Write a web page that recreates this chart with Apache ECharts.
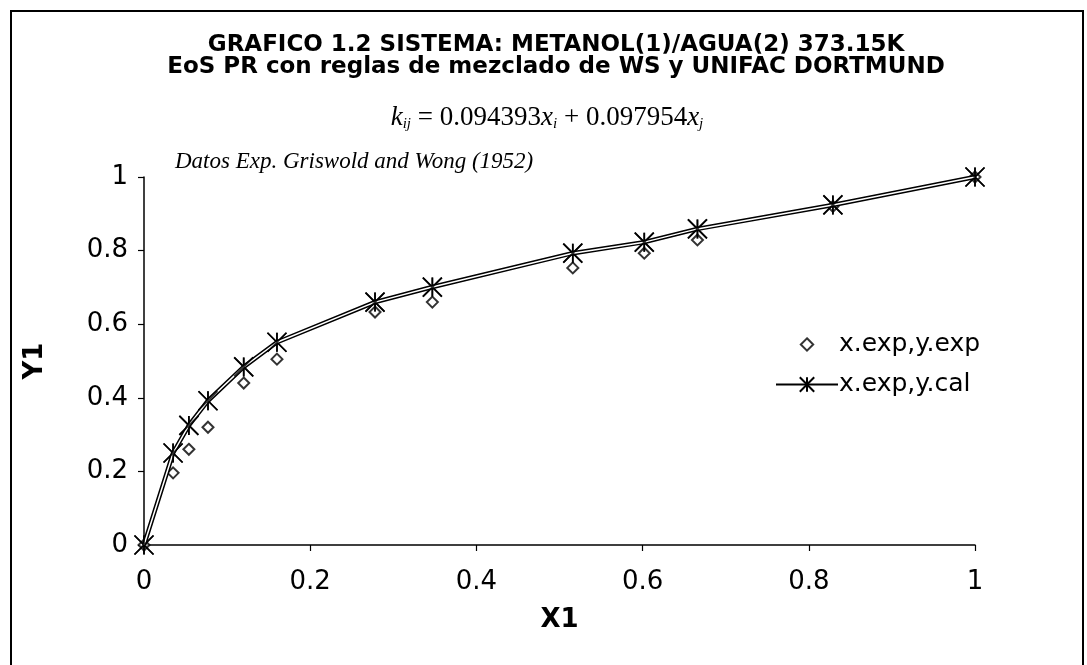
<!DOCTYPE html>
<html>
<head>
<meta charset="utf-8">
<script src="https://cdn.jsdelivr.net/npm/echarts@6/dist/echarts.min.js"></script>
<style>
  html, body { margin: 0; padding: 0; background: #ffffff; }
  #chart { width: 1087px; height: 665px; }
</style>
</head>
<body>
<div id="chart"></div>
<script>
// Experimental liquid mole fractions and vapour compositions (methanol)
const xExp = [0, 0.035, 0.054, 0.077, 0.12, 0.16, 0.278, 0.347, 0.516, 0.602, 0.666, 0.829, 1];
const yExp = [0, 0.196, 0.26, 0.32, 0.44, 0.505, 0.633, 0.66, 0.753, 0.793, 0.829, 0.92, 1];
// Vapour composition calculated with PR + WS + UNIFAC Dortmund
const yCal = [0, 0.25, 0.325, 0.392, 0.484, 0.551, 0.66, 0.701, 0.793, 0.823, 0.859, 0.924, 1];

const seriesNames = ['x.exp,y.exp', 'x.exp,y.cal'];
const titleLines = [
  'GRAFICO 1.2 SISTEMA: METANOL(1)/AGUA(2) 373.15K',
  'EoS PR con reglas de mezclado de WS y UNIFAC DORTMUND'
];
const sourceNote = 'Datos Exp. Griswold and Wong (1952)';
const kijCoefs = ['0.094393', '0.097954'];

const expPairs = xExp.map((x, i) => [x, yExp[i]]);
const calPairs = xExp.map((x, i) => [x, yCal[i]]);

// Excel-style asterisk: an X crossed by a vertical stroke
const asterisk = 'path://M0,0L16,16M16,0L0,16M8,0L8,16';
// Diamond inside an empty 16x16 box, so the legend keeps it small
const smallDiamond = 'path://M0,0M16,16M8,2.5L13.5,8L8,13.5L2.5,8Z';

const chart = echarts.init(document.getElementById('chart'));

const sans = 'DejaVu Sans';
const serif = 'Liberation Serif';

chart.setOption({
  animation: false,
  backgroundColor: '#ffffff',
  grid: { left: 144, right: 112, top: 177, bottom: 120 },
  xAxis: {
    type: 'value', min: 0, max: 1, interval: 0.2,
    name: 'X1', nameLocation: 'middle', nameGap: 62,
    nameTextStyle: { fontFamily: sans, fontWeight: 'bold', fontSize: 26, color: '#000' },
    axisLine: { show: true, lineStyle: { color: '#000', width: 1.5 } },
    axisTick: { show: true, inside: false, length: 6, lineStyle: { color: '#000', width: 1.2 } },
    axisLabel: { fontFamily: sans, fontSize: 26, color: '#000', margin: 24,
      formatter: v => String(+v.toFixed(1)) },
    splitLine: { show: false }
  },
  yAxis: {
    type: 'value', min: 0, max: 1, interval: 0.2,
    name: 'Y1', nameLocation: 'middle', nameGap: 96, nameRotate: 90,
    nameTextStyle: { fontFamily: sans, fontWeight: 'bold', fontSize: 26, color: '#000' },
    axisLine: { show: true, lineStyle: { color: '#000', width: 1.5 } },
    axisTick: { show: true, inside: false, length: 6, lineStyle: { color: '#000', width: 1.2 } },
    axisLabel: { fontFamily: sans, fontSize: 26, color: '#000', margin: 16,
      formatter: v => String(+v.toFixed(1)) },
    splitLine: { show: false }
  },
  legend: {
    data: [{ name: seriesNames[0], icon: smallDiamond }, { name: seriesNames[1] }],
    orient: 'vertical',
    left: 770, top: 327,
    itemWidth: 62, itemHeight: 18, itemGap: 15,
    textStyle: { fontFamily: sans, fontSize: 25, color: '#000', padding: [0, 0, 0, -4] }
  },
  graphic: [
    { type: 'polyline', silent: true, z: 0,
      shape: { points: [[11, 665], [11, 11], [1083, 11], [1083, 665]] },
      style: { stroke: '#000', lineWidth: 2, fill: null } },
    { type: 'text', silent: true, x: 556, y: 45,
      style: { text: titleLines[0], font: 'bold 23px "DejaVu Sans"',
        fill: '#000', align: 'center', verticalAlign: 'middle' } },
    { type: 'text', silent: true, x: 556, y: 67,
      style: { text: titleLines[1], font: 'bold 23px "DejaVu Sans"',
        fill: '#000', align: 'center', verticalAlign: 'middle' } },
    { type: 'text', silent: true, x: 547, y: 118,
      style: {
        text: '{it|k}{sub|ij}{n| = ' + kijCoefs[0] + '}{it|x}{sub|i}{n| + ' + kijCoefs[1] + '}{it|x}{sub|j}',
        align: 'center', verticalAlign: 'middle',
        rich: {
          it: { fontFamily: serif, fontStyle: 'italic', fontSize: 27, fill: '#000' },
          n: { fontFamily: serif, fontSize: 27, fill: '#000' },
          sub: { fontFamily: serif, fontStyle: 'italic', fontSize: 15, fill: '#000', padding: [13, 0, 0, 0] }
        }
      } },
    { type: 'text', silent: true, x: 175, y: 162,
      style: { text: sourceNote, font: 'italic 23px "Liberation Serif"', fill: '#000',
        verticalAlign: 'middle' } }
  ],
  series: [
    {
      name: seriesNames[0], type: 'scatter', data: expPairs, z: 2,
      symbol: smallDiamond, symbolSize: 16,
      itemStyle: { color: '#ffffff', borderColor: '#000', borderWidth: 2 }
    },
    {
      name: seriesNames[1], type: 'line', data: calPairs, z: 3,
      symbol: asterisk, symbolSize: 19, showSymbol: true,
      lineStyle: { color: '#000', width: 4.5 },
      itemStyle: { color: 'transparent', borderColor: '#000', borderWidth: 1.7 }
    },
    {
      name: 'inner', type: 'line', data: calPairs, z: 4, symbol: 'none',
      lineStyle: { color: '#ffffff', width: 1.5 }, silent: true
    },
    {
      name: 'stars', type: 'scatter', data: calPairs, z: 5,
      symbol: asterisk, symbolSize: 19, silent: true,
      itemStyle: { color: 'transparent', borderColor: '#000', borderWidth: 1.7 }
    }
  ]
});
</script>
</body>
</html>
